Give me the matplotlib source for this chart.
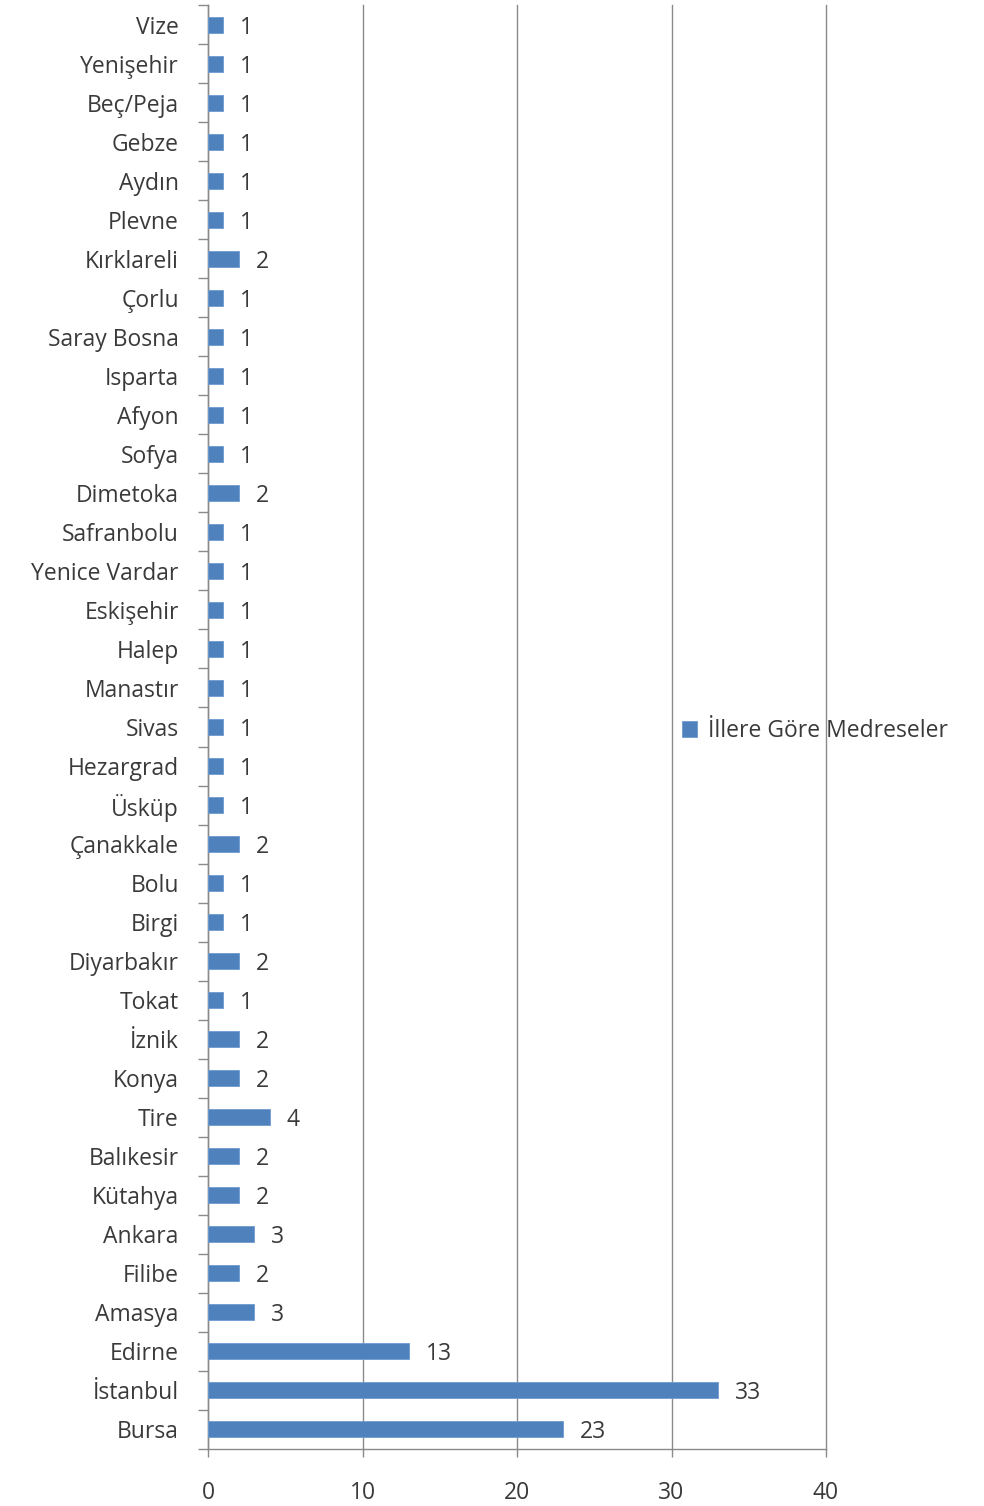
import matplotlib
matplotlib.use("Agg")
import matplotlib.pyplot as plt
import numpy as np

# bottom to top, as drawn
cities = ["Bursa", "İstanbul", "Edirne", "Amasya", "Filibe", "Ankara", "Kütahya",
          "Balıkesir", "Tire", "Konya", "İznik", "Tokat", "Diyarbakır", "Birgi",
          "Bolu", "Çanakkale", "Üsküp", "Hezargrad", "Sivas", "Manastır", "Halep",
          "Eskişehir", "Yenice Vardar", "Safranbolu", "Dimetoka", "Sofya", "Afyon",
          "Isparta", "Saray Bosna", "Çorlu", "Kırklareli", "Plevne", "Aydın",
          "Gebze", "Beç/Peja", "Yenişehir", "Vize"]
counts = [23, 33, 13, 3, 2, 3, 2, 2, 4, 2, 2, 1, 2, 1, 1, 2, 1, 1, 1, 1, 1,
          1, 1, 1, 2, 1, 1, 1, 1, 1, 2, 1, 1, 1, 1, 1, 1]
x_ticks = [0, 10, 20, 30, 40]
series_name = "İllere Göre Medreseler"

plt.rcParams["font.family"] = ["Open Sans", "DejaVu Sans"]
text_color = "#3a3a3a"
grid_color = "#8a8a8a"
bar_color = "#4f81bd"
fs = 16.5

fig = plt.figure(figsize=(9.84, 15.06), dpi=100)
ax = fig.add_axes([208 / 984, 1 - 1449 / 1506, 618 / 984, 1444 / 1506])

y = np.arange(len(cities))
bars = ax.barh(y, counts, height=0.41, color=bar_color, edgecolor="#6f9bd1",
               linewidth=0.6, label=series_name, zorder=3)
labels = ax.bar_label(bars, labels=[str(c) for c in counts], padding=12,
                      fontsize=fs, color=text_color)
for t in labels:
    t.set_va("center_baseline")

ax.set_xlim(0, 40)
ax.set_ylim(-0.5, len(cities) - 0.5)
ax.set_xticks(x_ticks)
ax.set_yticks(y)
ax.set_yticklabels(cities)
ax.set_yticks(np.arange(-0.5, len(cities)), minor=True)

ax.xaxis.grid(True, color=grid_color, linewidth=1.0, zorder=0)
for gl in ax.get_xgridlines():
    gl.set_clip_on(False)
for s in ["top", "right"]:
    ax.spines[s].set_visible(False)
for s in ["left", "bottom"]:
    ax.spines[s].set_color(grid_color)
    ax.spines[s].set_linewidth(1.0)

ax.tick_params(axis="y", which="major", length=0, pad=21, labelsize=fs,
               labelcolor=text_color)
ax.tick_params(axis="y", which="minor", length=7, color=grid_color, width=1)
ax.tick_params(axis="x", which="major", length=6, color=grid_color, width=1,
               pad=17, labelsize=fs, labelcolor=text_color)

fig.legend(loc="center left", bbox_to_anchor=(661 / 984, 1 - 731 / 1506),
           frameon=False, fontsize=fs, labelcolor=text_color,
           handlelength=0.65, handleheight=0.65, handletextpad=0.5)

fig.savefig("out.png", dpi=100)
